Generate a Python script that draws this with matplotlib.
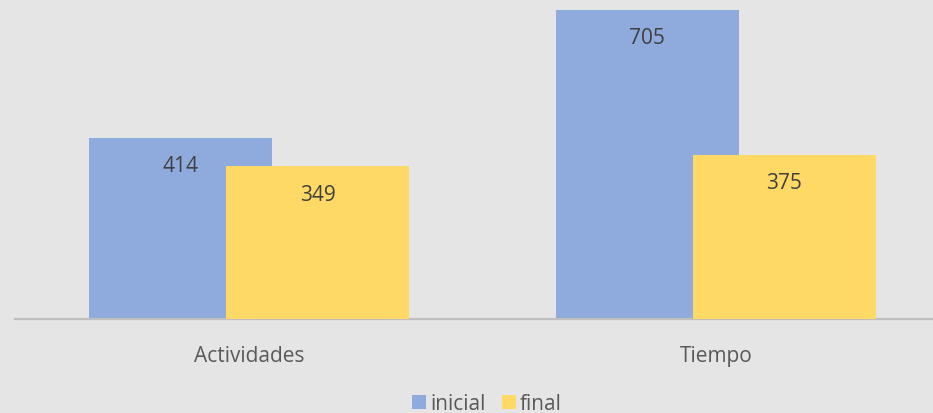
import matplotlib
matplotlib.use("Agg")
import matplotlib.pyplot as plt
from matplotlib.patches import Patch
import numpy as np

categories = ["Actividades", "Tiempo"]
series_names = ["inicial", "final"]
inicial = [414, 705]
final = [349, 375]

bg = "#E5E5E5"
c_ini = "#8FAADC"
c_fin = "#FFD966"
txt = "#404040"
plt.rcParams['font.family'] = ['Open Sans', 'DejaVu Sans']

W, H = 933, 414
fig = plt.figure(figsize=(W/100, H/100), dpi=100, facecolor=bg)
ax = fig.add_axes([15/W, (H-320)/H, 918/W, 320/H])
ax.set_facecolor(bg)

x = np.arange(len(categories))
bw = 0.392
off = 0.147
b1 = ax.bar(x - off, inicial, bw, color=c_ini, zorder=2)
b2 = ax.bar(x + off, final, bw, color=c_fin, zorder=3)

ax.set_xlim(-0.5 - 1/466.5, -0.5 + 917/466.5)
ax.set_ylim(0, 730)

fs = 15
for bars, vals in ((b1, inicial), (b2, final)):
    for r, v in zip(bars, vals):
        ax.annotate(str(v), (r.get_x() + r.get_width()/2, v), xytext=(0, -28),
                    textcoords="offset pixels", ha="center", va="center",
                    fontsize=fs, color=txt, zorder=5)

for s in ["top", "right", "left"]:
    ax.spines[s].set_visible(False)
ax.spines["bottom"].set_color("#BFBFBF")
ax.spines["bottom"].set_linewidth(1.6)
ax.set_yticks([])
ax.set_xticks(x)
ax.set_xticklabels(categories, fontsize=fs, color="#595959")
ax.tick_params(axis="x", length=0, pad=19)

handles = [Patch(facecolor=c_ini, edgecolor="none"), Patch(facecolor=c_fin, edgecolor="none")]
fig.legend(handles, series_names, loc="center", bbox_to_anchor=(487/W, 1 - 405/H),
           ncol=2, frameon=False, fontsize=fs, labelcolor="#595959",
           handlelength=0.65, handleheight=0.65, handletextpad=0.2, columnspacing=0.8)

fig.savefig("out.png", dpi=100, facecolor=bg)
